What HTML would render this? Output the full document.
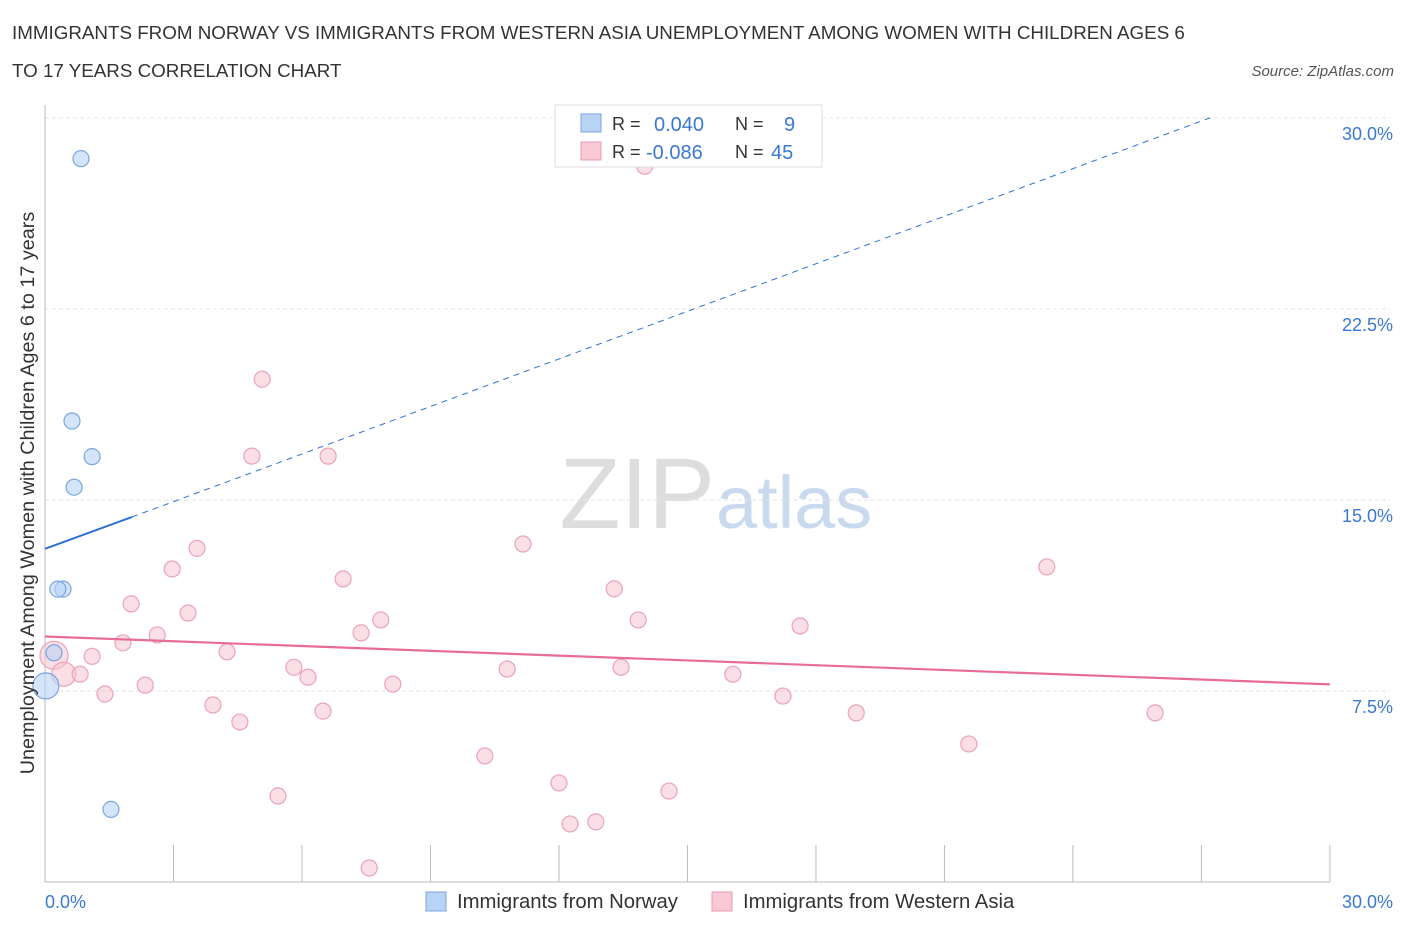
<!DOCTYPE html>
<html><head><meta charset="utf-8"><style>
body{margin:0;background:#fff;font-family:"Liberation Sans",sans-serif;}
svg text{font-family:"Liberation Sans",sans-serif;}
</style></head><body>
<svg id="c" width="1406" height="930" xmlns="http://www.w3.org/2000/svg">
<text x="12" y="39" font-size="18.8" fill="#333">IMMIGRANTS FROM NORWAY VS IMMIGRANTS FROM WESTERN ASIA UNEMPLOYMENT AMONG WOMEN WITH CHILDREN AGES 6</text>
<text x="12" y="77" font-size="18.8" fill="#333">TO 17 YEARS CORRELATION CHART</text>
<text x="1394" y="76" font-size="15" fill="#555" font-style="italic" text-anchor="end">Source: ZipAtlas.com</text>
<text x="715" y="528" font-size="100" fill="#ddd" text-anchor="end" font-family="Liberation Serif">ZIP</text>
<text x="716" y="528" font-size="74" fill="#c9d9ee">atlas</text>
<g id="grid"></g>
<g id="axes"></g>
<g id="marks"></g>
<text transform="translate(34,493) rotate(-90)" font-size="19.8" fill="#333" text-anchor="middle">Unemployment Among Women with Children Ages 6 to 17 years</text>
<g>
<rect x="555" y="105" width="267" height="62" fill="#fff" stroke="#ddd"/>
<rect x="581" y="114" width="20" height="18" fill="#b9d3f5" stroke="#7aa6e0"/>
<text x="612" y="130" font-size="18" fill="#333">R =</text><text x="654" y="131" font-size="20" fill="#3a78d4">0.040</text>
<text x="735" y="130" font-size="18" fill="#333">N =</text><text x="784" y="131" font-size="20" fill="#3a78d4">9</text>
<rect x="581" y="142" width="20" height="18" fill="#f9c9d6" stroke="#eb9ab0"/>
<text x="612" y="158" font-size="18" fill="#333">R =</text><text x="646" y="159" font-size="20" fill="#3a78d4">-0.086</text>
<text x="735" y="158" font-size="18" fill="#333">N =</text><text x="771" y="159" font-size="20" fill="#3a78d4">45</text>
</g>
<g>
<rect x="426" y="892" width="20" height="19" fill="#b9d3f5" stroke="#7aa6e0"/>
<text x="457" y="908" font-size="20.3" fill="#333">Immigrants from Norway</text>
<rect x="712" y="892" width="20" height="19" fill="#f9c9d6" stroke="#eb9ab0"/>
<text x="743" y="908" font-size="20.3" fill="#333">Immigrants from Western Asia</text>
</g>
</svg>
<script>
const yTicks=[7.5,15,22.5,30];
const yTickLabels=["7.5%","15.0%","22.5%","30.0%"];
const xTickCount=10;
const blueX=[0.84,0.63,1.1,0.68,0.42,0.3,0.21,0.02,1.54];
const blueY=[28.4,18.1,16.7,15.5,11.5,11.5,9.0,7.7,2.85];
const blueR=[8,8,8,8,8,8,8,13,8];
const pinkX=[14.0,5.07,4.83,6.61,3.55,11.16,23.39,2.97,6.96,13.29,2.01,3.34,7.84,13.85,17.63,2.62,7.38,1.82,4.25,1.1,0.21,0.44,0.82,5.81,6.14,10.79,13.45,16.06,2.34,8.12,1.4,17.23,3.92,6.49,18.94,25.92,4.55,21.57,10.27,12.0,5.44,14.57,12.26,12.86,7.57];
const pinkY=[28.1,19.74,16.72,16.72,13.1,13.27,12.37,12.29,11.9,11.51,10.92,10.56,10.29,10.29,10.05,9.7,9.78,9.39,9.04,8.86,8.9,8.16,8.16,8.43,8.04,8.36,8.43,8.16,7.73,7.77,7.38,7.3,6.95,6.71,6.64,6.64,6.28,5.42,4.95,3.89,3.38,3.57,2.28,2.36,0.55];
const pinkR=[8,8,8,8,8,8,8,8,8,8,8,8,8,8,8,8,8,8,8,8,14,12,8,8,8,8,8,8,8,8,8,8,8,8,8,8,8,8,8,8,8,8,8,8,8];
const blueTrend=[0,13.08,2.03,14.33];
const blueDash=[27.2,30];
const pinkTrend=[0,9.64,30,7.76];
const NS="http://www.w3.org/2000/svg";
const sx=v=>45+v*42.83, sy=v=>882-v*25.47;
function mk(t,a,p){const e=document.createElementNS(NS,t);for(const k in a)e.setAttribute(k,a[k]);document.getElementById(p).appendChild(e);return e;}
yTicks.forEach((t,i)=>{
 const g=mk('line',{x1:45,x2:1390,y1:sy(t),y2:sy(t),stroke:'#e3e3e3','stroke-dasharray':'4,3'},'grid');
 
 
 const l=mk('text',{x:1393,y:sy(t)+22,'font-size':18,fill:'#3a78d4','text-anchor':'end'},'axes');
 l.textContent=yTickLabels[i];
 
 
});
const ax=mk('line',{x1:45,x2:45,y1:105,y2:882,stroke:'#bbb'},'axes');


const bx=mk('line',{x1:45,x2:1330,y1:882,y2:882,stroke:'#bbb'},'axes');


for(let i=0;i<=xTickCount;i++){const x=sx(30*i/xTickCount);const t=mk('line',{x1:x,x2:x,y1:845,y2:882,stroke:'#bbb'},'axes');
 
 }
[[0,"0.0%","start",45],[30,"30.0%","end",1393]].forEach(d=>{const t=mk('text',{x:d[3],y:908,'font-size':18,fill:'#3a78d4','text-anchor':d[2]},'axes');t.textContent=d[1];
 
 });
pinkX.forEach((x,i)=>{const c=mk('circle',{cx:sx(x),cy:sy(pinkY[i]),r:pinkR[i],fill:'rgba(248,196,210,0.55)',stroke:'#eaa2b6','stroke-width':1.2},'marks');
 
 });
blueX.forEach((x,i)=>{const c=mk('circle',{cx:sx(x),cy:sy(blueY[i]),r:blueR[i],fill:'rgba(185,211,245,0.6)',stroke:'#7aa6e0','stroke-width':1.2},'marks');
 
 });
const l1=mk('line',{x1:sx(blueTrend[0]),y1:sy(blueTrend[1]),x2:sx(blueTrend[2]),y2:sy(blueTrend[3]),stroke:'#2f72d6','stroke-width':2},'marks');


const l2=mk('line',{x1:sx(blueTrend[2]),y1:sy(blueTrend[3]),x2:sx(blueDash[0]),y2:sy(blueDash[1]),stroke:'#2f72d6','stroke-width':1,'stroke-dasharray':'6,5'},'marks');


const l3=mk('line',{x1:sx(pinkTrend[0]),y1:sy(pinkTrend[1]),x2:sx(pinkTrend[2]),y2:sy(pinkTrend[3]),stroke:'#e86c95','stroke-width':2.2},'marks');


</script>
</body></html>
